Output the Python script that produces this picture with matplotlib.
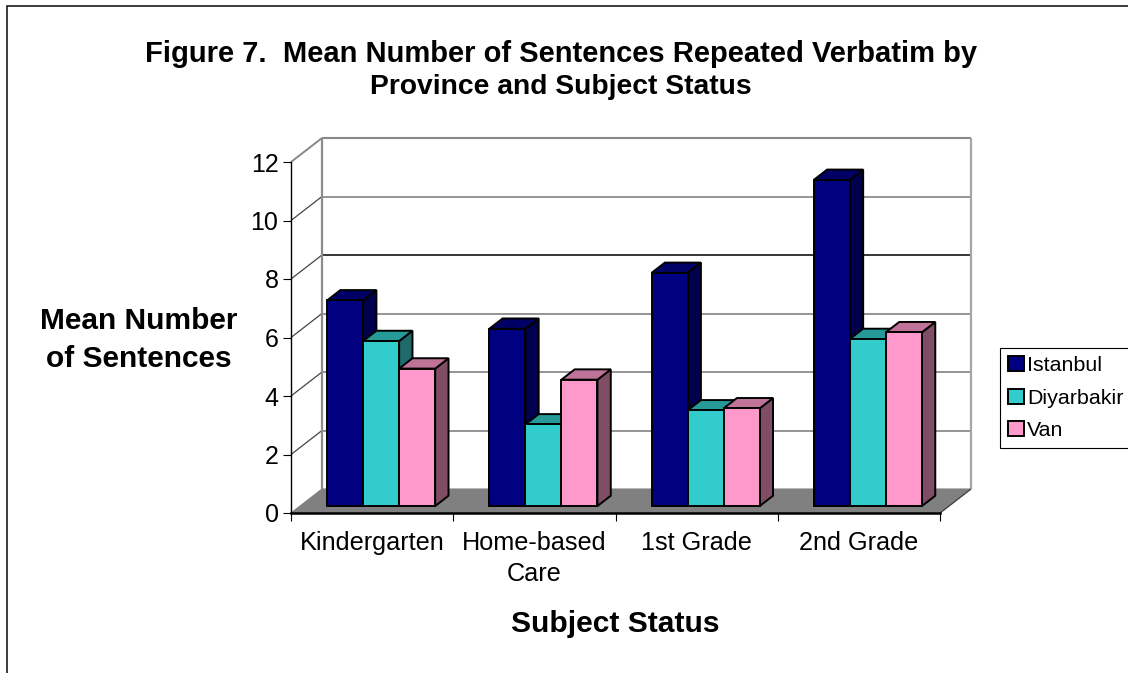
import matplotlib
matplotlib.use('Agg')
import matplotlib.pyplot as plt
from matplotlib.patches import Rectangle

plt.rcParams['font.family'] = ['Liberation Sans', 'DejaVu Sans']

categories = ['Kindergarten', 'Home-based\nCare', '1st Grade', '2nd Grade']
series_names = ['Istanbul', 'Diyarbakir', 'Van']
istanbul = [7.03, 6.06, 7.97, 11.15]
diyarbakir = [5.64, 2.79, 3.27, 5.71]
van = [4.70, 4.32, 3.34, 5.94]
yticks = [0, 2, 4, 6, 8, 10, 12]

FRONT = ['#000080', '#33CCCC', '#FF99CC']
TOP = ['#000066', '#269999', '#BF7399']
SIDE = ['#00004C', '#1F6B6B', '#804D66']

W, H = 1128, 673
X0, X1, Y0, Y1 = 291, 940, 513, 162   # front plane of the plot, in pixels
DX, DY = 31, 24                       # depth of the floor, in pixels

fig = plt.figure(figsize=(W / 100, H / 100), dpi=100, facecolor='white')
ax = fig.add_axes([X0 / W, 1 - Y0 / H, (X1 - X0) / W, (Y0 - Y1) / H])
ax.set_xlim(0, 4)
ax.set_ylim(0, 12)
ax.patch.set_visible(False)
for s in ['top', 'right']:
    ax.spines[s].set_visible(False)
ax.spines['left'].set_linewidth(1.0)
ax.spines['bottom'].set_linewidth(1.8)
ax.spines['bottom'].set_zorder(30)


def proj(x, y, d):
    # d = 0 front of the box, d = 1 back wall
    return x + d * DX * 4 / (X1 - X0), y + d * DY * 12 / (Y0 - Y1)


def face(pts, **kw):
    xs, ys = zip(*[proj(*p) for p in pts])
    ax.fill(xs, ys, clip_on=False, **kw)


def line(a, b, **kw):
    xa, ya = proj(*a)
    xb, yb = proj(*b)
    ax.plot([xa, xb], [ya, yb], clip_on=False, solid_capstyle='butt', **kw)


# outer chart border
fig.add_artist(Rectangle((7 / W, -0.01), 1.1, 1 - 6 / H + 0.01, transform=fig.transFigure,
                         fill=False, edgecolor='#1a1a1a', linewidth=1.2))

# walls and floor
face([(0, 0, 0), (4, 0, 0), (4, 0, 1), (0, 0, 1)], facecolor='#808080', edgecolor='#808080',
     linewidth=0.8, zorder=2)
for v in yticks[1:-1]:
    col = '#000000' if v == 8 else '#777777'
    line((0, v, 1), (4, v, 1), color=col, lw=1.1, zorder=1)
    line((0, v, 0), (0, v, 1), color='#444444', lw=0.9, zorder=1)
line((0, 12, 0), (0, 12, 1), color='#888888', lw=1.4, zorder=1)
line((0, 12, 1), (4, 12, 1), color='#888888', lw=1.5, zorder=1)
line((0, 0, 1), (0, 12, 1), color='#8c8c8c', lw=1.6, zorder=1.5)
line((4, 0, 1), (4, 12, 1), color='#a6a6a6', lw=1.6, zorder=1.5)
line((4, 0, 0), (4, 0, 1), color='#444444', lw=0.9, zorder=3)

# bars
D0, D1 = 0.29, 0.72
BAR = 1 / 4.5
GAP = 0.5 * (1 - 3 * BAR)
z = 4
for i in range(len(categories)):
    for j, vals in enumerate([istanbul, diyarbakir, van]):
        v = vals[i]
        a = i + GAP + j * BAR
        b = a + BAR
        style = dict(edgecolor='black', linewidth=1.4, joinstyle='miter', zorder=z)
        face([(b, 0, D0), (b, 0, D1), (b, v, D1), (b, v, D0)], facecolor=SIDE[j], **style)
        face([(a, v, D0), (b, v, D0), (b, v, D1), (a, v, D1)], facecolor=TOP[j], **style)
        face([(a, 0, D0), (b, 0, D0), (b, v, D0), (a, v, D0)], facecolor=FRONT[j], **style)
        z += 1

# axes
ax.set_yticks(yticks)
ax.tick_params(axis='y', labelsize=18, length=6, width=0.8, pad=3)
ax.set_xticks(range(5))
ax.set_xticks([0.5, 1.5, 2.5, 3.5], minor=True)
ax.set_xticklabels([''] * 5)
ax.set_xticklabels(categories, minor=True, fontsize=18.2, linespacing=1.36)
ax.tick_params(axis='x', which='major', length=6, width=0.8)
ax.tick_params(axis='x', which='minor', length=0, pad=13)

# titles
fig.text(561.5 / W, 1 - 54 / H, 'Figure 7.  Mean Number of Sentences Repeated Verbatim by',
         ha='center', va='center', fontsize=21, fontweight='bold')
fig.text(560.5 / W, 1 - 87 / H, 'Province and Subject Status',
         ha='center', va='center', fontsize=20.3, fontweight='bold')
fig.text(138.5 / W, 1 - 340 / H, 'Mean Number\nof Sentences', ha='center', va='center',
         fontsize=21.5, fontweight='bold', linespacing=1.46)
fig.text(615.5 / W, 1 - 624 / H, 'Subject Status', ha='center', va='center',
         fontsize=21.6, fontweight='bold')

# legend
handles = [Rectangle((0, 0), 1, 1, facecolor=c, edgecolor='black', linewidth=1.4) for c in FRONT]
leg = fig.legend(handles, series_names, loc='upper left',
                 bbox_to_anchor=(1000 / W, 1 - 348 / H), bbox_transform=fig.transFigure,
                 fontsize=15.4, frameon=True, fancybox=False, edgecolor='black', framealpha=1,
                 borderaxespad=0, borderpad=0.37, handlelength=0.75, handleheight=0.7,
                 handletextpad=0.15, labelspacing=0.64)
leg.get_frame().set_linewidth(0.8)

fig.savefig('out.png', dpi=100, facecolor='white')
